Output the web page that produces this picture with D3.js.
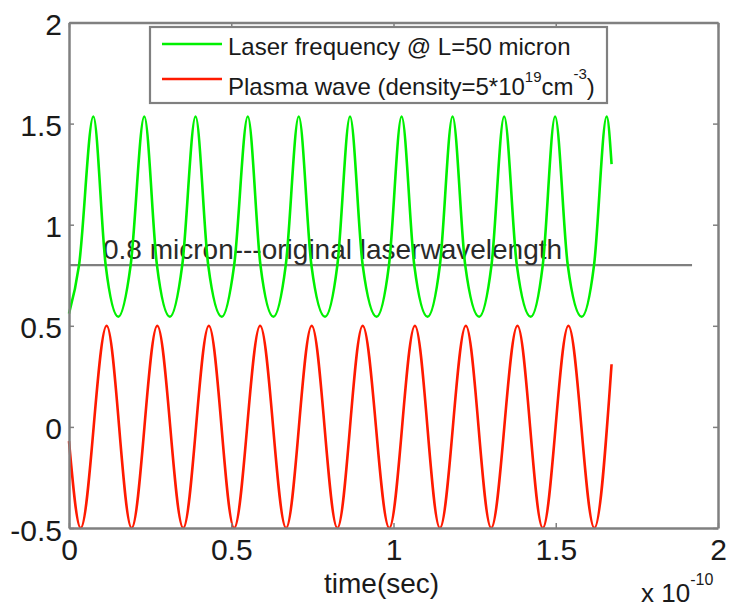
<!DOCTYPE html>
<html>
<head>
<meta charset="utf-8">
<script src="https://cdn.jsdelivr.net/npm/d3@7"></script>
<style>
  body { margin: 0; background: #fff; }
  svg text { font-family: "Liberation Sans", Arial, sans-serif; fill: #1a1a1a; }
</style>
</head>
<body>
<script>
// values (time in units of 1e-10 s)
var xTicks = [0, 0.5, 1, 1.5, 2];
var yTicks = [-0.5, 0, 0.5, 1, 1.5, 2];

// laser frequency: peaks, troughs and the crossings of the 0.8 line
var greenT = [0, 0.031, 0.075, 0.113, 0.152, 0.190, 0.232, 0.271, 0.311, 0.349, 0.390, 0.429, 0.471,
  0.509, 0.551, 0.590, 0.630, 0.668, 0.708, 0.747, 0.789, 0.827, 0.866, 0.905, 0.948, 0.986, 1.025,
  1.064, 1.105, 1.143, 1.182, 1.221, 1.264, 1.302, 1.341, 1.380, 1.423, 1.460, 1.498, 1.537, 1.580,
  1.618, 1.657, 1.672];
var greenV = [0.56, 0.80, 1.535, 0.80, 0.545, 0.80, 1.535, 0.80, 0.545, 0.80, 1.535, 0.80, 0.545,
  0.80, 1.535, 0.80, 0.545, 0.80, 1.535, 0.80, 0.545, 0.80, 1.535, 0.80, 0.545, 0.80, 1.535,
  0.80, 0.545, 0.80, 1.535, 0.80, 0.545, 0.80, 1.535, 0.80, 0.545, 0.80, 1.535, 0.80, 0.545,
  0.80, 1.535, 1.30];

// plasma wave: troughs and peaks
var redT = [0, 0.036, 0.116, 0.193, 0.272, 0.352, 0.431, 0.509, 0.589, 0.669, 0.748, 0.827, 0.905,
  0.987, 1.066, 1.143, 1.223, 1.301, 1.382, 1.460, 1.539, 1.619, 1.672];
var redV = [-0.07, -0.5, 0.5, -0.5, 0.5, -0.5, 0.5, -0.5, 0.5, -0.5, 0.5, -0.5, 0.5,
  -0.5, 0.5, -0.5, 0.5, -0.5, 0.5, -0.5, 0.5, -0.5, 0.31];

// reference line: original laser wavelength
var refT = [0, 1.92];
var refV = [0.8, 0.8];

var width = 733, height = 609;
var plotLeft = 69, plotRight = 718, plotTop = 22.5, plotBottom = 528;

var svg = d3.select("body").append("svg")
  .attr("width", width).attr("height", height);

var x = d3.scaleLinear().domain([0, 2]).range([plotLeft, plotRight]);
var y = d3.scaleLinear().domain([-0.5, 2]).range([plotBottom, plotTop]);

var fmt = function(d){ return String(d); };

// reference line and its label
var lineGen = d3.line()
  .x(function(d){ return x(d[0]); })
  .y(function(d){ return y(d[1]); });

svg.append("path")
  .datum(d3.zip(refT, refV))
  .attr("d", lineGen)
  .attr("fill", "none")
  .attr("stroke", "#7f7f7f")
  .attr("stroke-width", 2.2);

svg.append("text")
  .attr("x", 103).attr("y", 259)
  .style("font-size", "28px")
  .style("fill", "#2a2a2a")
  .text("0.8 micron---original laserwavelength");

// curves
var curveGen = d3.line()
  .x(function(d){ return x(d[0]); })
  .y(function(d){ return y(d[1]); })
  .curve(d3.curveMonotoneX);

svg.append("path")
  .datum(d3.zip(redT, redV))
  .attr("d", curveGen)
  .attr("fill", "none")
  .attr("stroke", "#ff1a00")
  .attr("stroke-width", 2.6);

svg.append("path")
  .datum(d3.zip(greenT, greenV))
  .attr("d", curveGen)
  .attr("fill", "none")
  .attr("stroke", "#00f000")
  .attr("stroke-width", 2.6);

// axes with inward ticks on all four sides
var gB = svg.append("g").attr("transform", "translate(0," + plotBottom + ")")
  .call(d3.axisBottom(x).tickValues(xTicks).tickFormat(fmt).tickSize(-5).tickSizeOuter(0).tickPadding(11));
var gT = svg.append("g").attr("transform", "translate(0," + plotTop + ")")
  .call(d3.axisTop(x).tickValues(xTicks).tickFormat("").tickSize(-5).tickSizeOuter(0));
var gL = svg.append("g").attr("transform", "translate(" + plotLeft + ",0)")
  .call(d3.axisLeft(y).tickValues(yTicks).tickFormat(fmt).tickSize(-5).tickSizeOuter(0).tickPadding(7));
var gR = svg.append("g").attr("transform", "translate(" + plotRight + ",0)")
  .call(d3.axisRight(y).tickValues(yTicks).tickFormat("").tickSize(-5).tickSizeOuter(0));

[gB, gT, gL, gR].forEach(function(g){
  g.select(".domain").attr("stroke", "#808080").attr("stroke-width", 2.5);
  g.selectAll(".tick line").attr("stroke", "#808080").attr("stroke-width", 1.5);
  g.selectAll(".tick text").style("font-size", "30px").style("font-family", "Liberation Sans, Arial, sans-serif").attr("fill", "#1a1a1a");
});
gL.selectAll(".tick text").attr("dy", "0.4em");

// axis title and exponent
svg.append("text")
  .attr("x", 324).attr("y", 593)
  .style("font-size", "28px")
  .text("time(sec)");

var expo = svg.append("text")
  .attr("x", 641).attr("y", 602)
  .style("font-size", "26px");
expo.append("tspan").text("x 10");
expo.append("tspan").attr("dy", -17).style("font-size", "16px").text("-10");

// legend
var legend = svg.append("g");
legend.append("rect")
  .attr("x", 150).attr("y", 27).attr("width", 457).attr("height", 76)
  .attr("fill", "#fff").attr("stroke", "#808080").attr("stroke-width", 2.2);

legend.append("line")
  .attr("x1", 162).attr("x2", 222).attr("y1", 44).attr("y2", 44)
  .attr("stroke", "#00f000").attr("stroke-width", 2.6);
legend.append("line")
  .attr("x1", 162).attr("x2", 222).attr("y1", 79).attr("y2", 79)
  .attr("stroke", "#ff1a00").attr("stroke-width", 2.6);

legend.append("text")
  .attr("x", 228).attr("y", 55)
  .style("font-size", "24px")
  .text("Laser frequency @ L=50 micron");

var t2 = legend.append("text")
  .attr("x", 228).attr("y", 95)
  .style("font-size", "24px");
t2.append("tspan").text("Plasma wave (density=5*10");
t2.append("tspan").attr("dy", -13).style("font-size", "15px").text("19");
t2.append("tspan").attr("dy", 13).text("cm");
t2.append("tspan").attr("dy", -16).style("font-size", "15px").text("-3");
t2.append("tspan").attr("dy", 16).text(")");
</script>
</body>
</html>
